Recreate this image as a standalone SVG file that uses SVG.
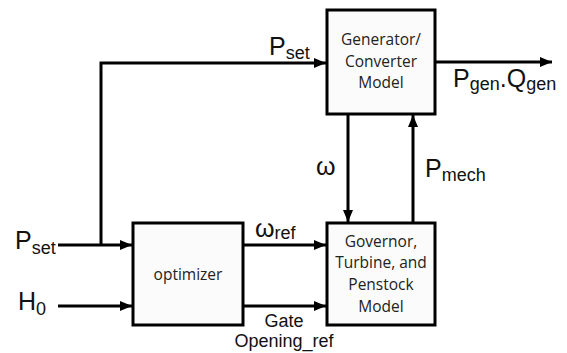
<svg xmlns="http://www.w3.org/2000/svg" width="567" height="353" viewBox="0 0 567 353">
<style>
.box{fill:#fbfbfb;stroke:#000;stroke-width:3}
.ln{fill:none;stroke:#000;stroke-width:3}
.bt{font-family:"Open Sans","Liberation Sans",sans-serif;font-size:15.5px;fill:#222;text-anchor:middle}
.lb{font-family:"Liberation Sans",Arial,sans-serif;font-size:25px;fill:#111}
.sb{font-size:18px}
.gt{font-family:"Liberation Sans",Arial,sans-serif;font-size:18px;fill:#111;text-anchor:middle}
</style>
<defs>
<marker id="ah" markerWidth="12" markerHeight="10" refX="12" refY="5" orient="auto" markerUnits="userSpaceOnUse">
<path d="M0,0 L12,5 L0,10 Z" fill="#000"/>
</marker>
</defs>
<rect width="567" height="353" fill="#fff"/>
<g id="connectors">
<path class="ln" d="M101,245 V63 H326" marker-end="url(#ah)"/>
<path class="ln" d="M58,245 H132" marker-end="url(#ah)"/>
<path class="ln" d="M58,306 H132" marker-end="url(#ah)"/>
<path class="ln" d="M243,245 H326" marker-end="url(#ah)"/>
<path class="ln" d="M243,306 H326" marker-end="url(#ah)"/>
<path class="ln" d="M348,114 V222" marker-end="url(#ah)"/>
<path class="ln" d="M413,223 V115" marker-end="url(#ah)"/>
<path class="ln" d="M435,62 H552" marker-end="url(#ah)"/>
</g>
<g id="generator">
<rect class="box" x="327" y="10" width="108" height="104"/>
<text class="bt" x="381" y="45">Generator/</text>
<text class="bt" x="381" y="67">Converter</text>
<text class="bt" x="381" y="88">Model</text>
</g>
<g id="optimizer">
<rect class="box" x="133" y="223" width="110" height="102"/>
<text class="bt" x="188" y="280">optimizer</text>
</g>
<g id="governor">
<rect class="box" x="327" y="223" width="108" height="102"/>
<text class="bt" x="381" y="247">Governor,</text>
<text class="bt" x="381" y="268">Turbine, and</text>
<text class="bt" x="381" y="290">Penstock</text>
<text class="bt" x="381" y="312">Model</text>
</g>
<g id="labels">
<text class="lb" x="269" y="55">P<tspan class="sb" dy="4">set</tspan></text>
<text class="lb" x="453" y="87">P<tspan class="sb" dy="3">gen</tspan><tspan dy="-3">.</tspan>Q<tspan class="sb" dy="3">gen</tspan></text>
<text class="lb" x="316" y="175">ω</text>
<text class="lb" x="425" y="177">P<tspan class="sb" dy="4">mech</tspan></text>
<text class="lb" x="255" y="237">ω<tspan class="sb" dy="2">ref</tspan></text>
<text class="lb" x="15" y="249">P<tspan class="sb" dy="5">set</tspan></text>
<text class="lb" x="18" y="310">H<tspan class="sb" dy="5">0</tspan></text>
<text class="gt" x="284" y="327">Gate</text>
<text class="gt" x="284" y="347">Opening_ref</text>
</g>
</svg>
